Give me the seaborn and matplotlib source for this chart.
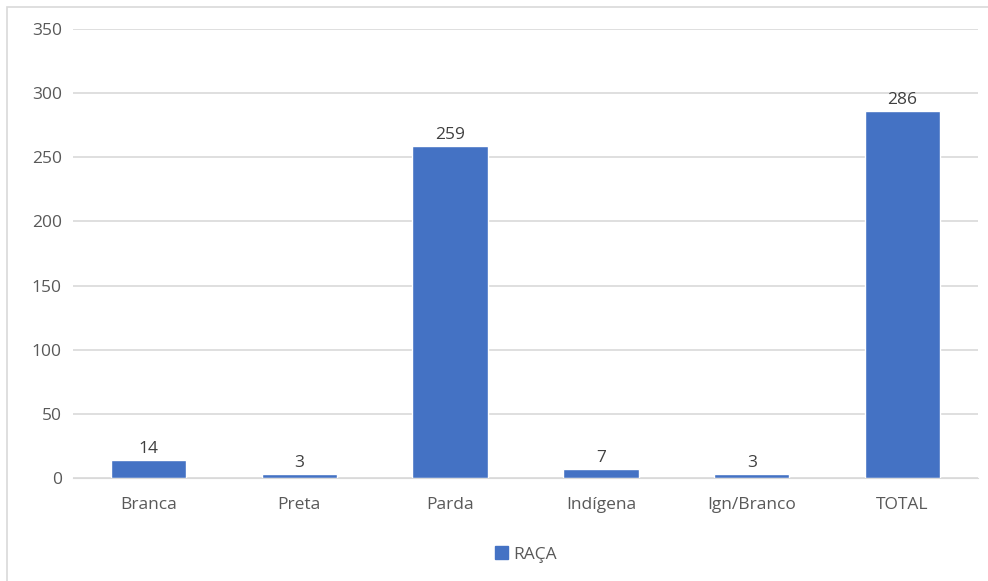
import matplotlib
matplotlib.use("Agg")
import matplotlib.pyplot as plt
import seaborn as sns
import pandas as pd
from matplotlib.patches import Rectangle, Patch

categories = ["Branca", "Preta", "Parda", "Indígena", "Ign/Branco", "TOTAL"]
values = [14, 3, 259, 7, 3, 286]
series_name = "RAÇA"

sns.set_style("white")
plt.rcParams['font.family'] = ['Open Sans', 'DejaVu Sans']

df = pd.DataFrame({"cat": categories, "val": values})
fig = plt.figure(figsize=(9.88, 5.81), dpi=100)
ax = fig.add_axes([73/988, 1-478/581, (978-73)/988, (478-29)/581])
color = "#4472C4"
sns.barplot(data=df, x="cat", y="val", color=color, width=0.5, ax=ax, saturation=1)

ax.set_ylim(0, 350)
ax.set_yticks(range(0, 351, 50))
ax.yaxis.grid(True, color="#D9D9D9", linewidth=1.2)
ax.set_axisbelow(True)
for s in ["top", "right", "left"]:
    ax.spines[s].set_visible(False)
ax.spines["bottom"].set_color("#D9D9D9")
ax.set_xlabel("")
ax.set_ylabel("")
ax.tick_params(axis="both", length=0, labelsize=12.5, colors="#595959")
ax.tick_params(axis="y", pad=8)
ax.tick_params(axis="x", pad=14)

for c in ax.containers:
    ax.bar_label(c, labels=[str(v) for v in values], fontsize=12.5, color="#404040", padding=2)

ax.legend(handles=[Patch(color=color, label=series_name)], loc="center",
          bbox_to_anchor=(0.5, -0.17), frameon=False, fontsize=12.5, handlelength=0.75,
          handleheight=0.75, labelcolor="#595959", handletextpad=0.3)

fig.patches.append(Rectangle((6.5/988, -0.05), 1.1, 1 - 6.5/581 + 0.05, transform=fig.transFigure,
                             fill=False, edgecolor="#D9D9D9", linewidth=1.2, clip_on=False))
fig.savefig("out.png", dpi=100)
